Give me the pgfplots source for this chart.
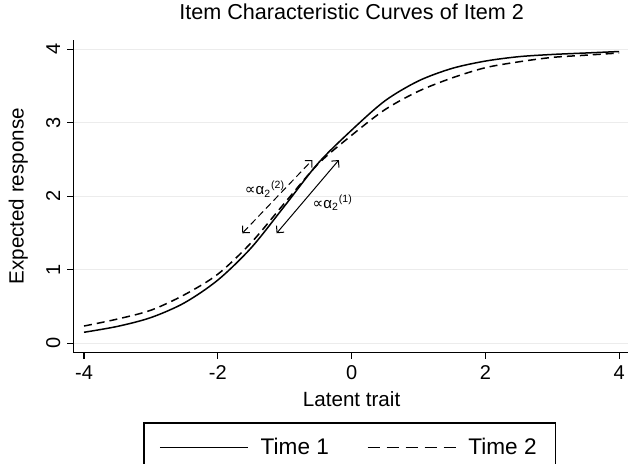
\documentclass[border=0pt]{standalone}
\usepackage{fontspec}
\setmainfont{Liberation Sans}
\newfontfamily\dejavu{DejaVu Sans}
\usepackage{pgfplots}
\usepackage{pgfplotstable}
\pgfplotsset{compat=1.18}
\usetikzlibrary{arrows.meta}

% expected response
\pgfplotstableread{
x     t1    t2
-4.0  0.15  0.235
-3.5  0.23  0.33
-3.0  0.35  0.45
-2.5  0.55  0.66
-2.0  0.86  0.94
-1.5  1.30  1.37
-1.0  1.87  1.91
-0.5  2.45  2.44
 0.0  2.90  2.83
 0.5  3.30  3.18
 1.0  3.57  3.43
 1.5  3.74  3.61
 2.0  3.84  3.75
 2.5  3.90  3.83
 3.0  3.93  3.89
 3.5  3.95  3.92
 4.0  3.97  3.95
}\icc

\tikzset{barb/.style={{Straight Barb[length=2.5pt,width=5pt]}-{Straight Barb[length=2.5pt,width=5pt]}}}

\begin{document}
\begin{tikzpicture}
\begin{axis}[
  name=ax, scale only axis,
  width=278.3pt, height=156.4pt,
  xmin=-4.16, xmax=4.16, ymin=-0.128, ymax=4.128,
  axis x line*=bottom, axis y line*=left,
  axis line style={-, line width=0.75pt},
  xtick={-4,-2,0,2,4}, ytick={0,1,2,3,4},
  tick align=outside, major tick length=3pt,
  tick style={black, line width=0.6pt},
  ymajorgrids, grid style={gray!15, line width=0.5pt},
  /pgf/number format/assume math mode=true,
  tick label style={font=\fontsize{10}{12}\selectfont},
  yticklabel style={rotate=90, anchor=south},
  title={Item Characteristic Curves of Item 2},
  title style={at={(0.5,1)}, anchor=base, yshift=4.1pt, font=\fontsize{10.8}{13}\selectfont},
  xlabel={Latent trait},
  xlabel style={at={(axis description cs:0.5,0)}, anchor=base, yshift=-26.9pt, font=\fontsize{10.3}{12}\selectfont},
  ylabel={Expected response},
  ylabel style={at={(axis description cs:-0.0988,0.5)}, anchor=center, font=\fontsize{10.3}{12}\selectfont},
  legend columns=2,
  legend image code/.code={\draw[#1] (0pt,0pt) -- (44pt,0pt); \path (48pt,0pt);},
  legend style={at={(0.497,0)}, anchor=north, yshift=-34.8pt,
    draw=black, line width=0.75pt, inner xsep=7.5pt, inner ysep=5.5pt,
    font=\fontsize{11.3}{13}\selectfont,
    /tikz/every even column/.append style={column sep=17pt}},
]
\addplot[black, line width=0.75pt, smooth] table[x=x, y=t1] {\icc};
\addlegendentry{Time 1}
\addplot[black, line width=0.75pt, smooth, dash pattern=on 4pt off 2.5pt,
  legend image post style={dash pattern=on 6pt off 3.5pt}] table[x=x, y=t2] {\icc};
\addlegendentry{Time 2}

% slope arrows
\addplot[black, line width=0.5pt, dash pattern=on 3.5pt off 2pt, barb, forget plot]
  coordinates {(-1.634,1.497) (-0.587,2.494)};
\addplot[black, line width=0.5pt, barb, forget plot]
  coordinates {(-1.121,1.497) (-0.190,2.494)};
\node[anchor=base west, inner sep=0pt, font=\fontsize{7.5}{9}\selectfont]
  at (axis cs:-1.6,2.018) {{\dejavu ∝}α\textsubscript{2}\textsuperscript{(2)}};
\node[anchor=base west, inner sep=0pt, font=\fontsize{7.5}{9}\selectfont]
  at (axis cs:-0.587,1.837) {{\dejavu ∝}α\textsubscript{2}\textsuperscript{(1)}};
\end{axis}
\pgfresetboundingbox
\path (ax.south west) ++(-36.65pt,-55.15pt) rectangle ++(314pt,231.5pt);
\end{tikzpicture}
\end{document}
